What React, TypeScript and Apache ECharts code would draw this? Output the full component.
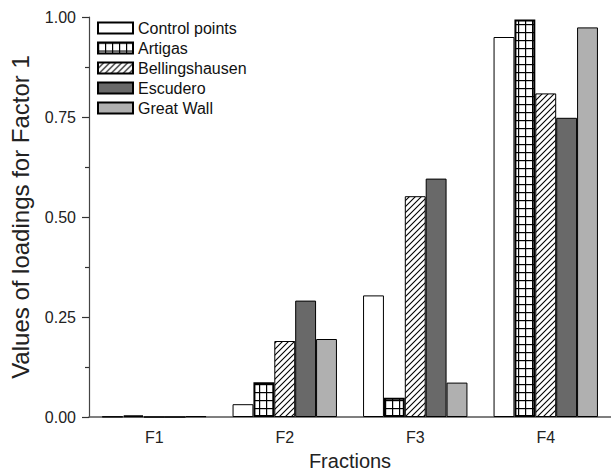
import React, { useEffect, useRef } from "react";
import * as echarts from "echarts";

const categories = ["F1", "F2", "F3", "F4"];
const seriesNames = ["Control points", "Artigas", "Bellingshausen", "Escudero", "Great Wall"];
const controlPoints = [0.001, 0.032, 0.304, 0.95];
const artigas = [0.004, 0.087, 0.048, 0.994];
const bellingshausen = [0, 0.19, 0.552, 0.809];
const escudero = [0, 0.291, 0.596, 0.748];
const greatWall = [0.002, 0.195, 0.086, 0.974];
const yTicks = [0, 0.25, 0.5, 0.75, 1.0];

const FONT = "'Liberation Sans', Arial, Helvetica, sans-serif";

function gridPattern(): HTMLCanvasElement {
  const c = document.createElement("canvas");
  c.width = 7;
  c.height = 8;
  const ctx = c.getContext("2d")!;
  ctx.fillStyle = "#ffffff";
  ctx.fillRect(0, 0, 7, 8);
  ctx.fillStyle = "#000000";
  ctx.fillRect(0, 0, 1.2, 8);
  ctx.fillRect(0, 0, 7, 1.2);
  return c;
}

function hatchPattern(): HTMLCanvasElement {
  const s = 6;
  const c = document.createElement("canvas");
  c.width = s;
  c.height = s;
  const ctx = c.getContext("2d")!;
  ctx.fillStyle = "#ffffff";
  ctx.fillRect(0, 0, s, s);
  ctx.strokeStyle = "#000000";
  ctx.lineWidth = 1.1;
  ctx.beginPath();
  ctx.moveTo(-1, s + 1);
  ctx.lineTo(s + 1, -1);
  ctx.moveTo(-1, 1);
  ctx.lineTo(1, -1);
  ctx.moveTo(s - 1, s + 1);
  ctx.lineTo(s + 1, s - 1);
  ctx.stroke();
  return c;
}

export default function App() {
  const ref = useRef<HTMLDivElement>(null);

  useEffect(() => {
    document.body.style.margin = "0";
    if (!ref.current) return;
    const chart = echarts.init(ref.current, null, { renderer: "svg" });
    const values = [controlPoints, artigas, bellingshausen, escudero, greatWall];
    const fills: any[] = [
      "#ffffff",
      { image: gridPattern(), repeat: "repeat" },
      { image: hatchPattern(), repeat: "repeat" },
      "#696969",
      "#b0b0b0",
    ];
    const borderWidths = [1, 2, 1, 1, 1];

    chart.setOption({
      animation: false,
      backgroundColor: "#ffffff",
      textStyle: { fontFamily: FONT },
      grid: { left: 88, top: 17, width: 528, height: 404, containLabel: false },
      legend: {
        orient: "vertical",
        left: 97,
        top: 20,
        padding: 0,
        itemWidth: 35,
        itemHeight: 11,
        itemGap: 4,
        icon: "rect",
        data: seriesNames,
        textStyle: { fontSize: 16, color: "#111", fontFamily: FONT, lineHeight: 16 },
      },
      xAxis: {
        type: "category",
        data: categories,
        name: "Fractions",
        nameLocation: "middle",
        nameGap: 34,
        nameTextStyle: { fontSize: 20, color: "#222", fontFamily: FONT },
        axisLine: { lineStyle: { color: "#555", width: 1.5 } },
        axisTick: { alignWithLabel: true, length: 7, lineStyle: { color: "#333", width: 1.2 } },
        axisLabel: { fontSize: 16, color: "#222", margin: 12, fontFamily: FONT },
        splitLine: { show: false },
      },
      yAxis: {
        type: "value",
        min: 0,
        max: 1,
        interval: 0.25,
        name: "Values of loadings for Factor 1",
        nameLocation: "middle",
        nameGap: 57,
        nameTextStyle: { fontSize: 24, color: "#222", fontFamily: FONT },
        axisLine: { show: true, lineStyle: { color: "#444", width: 1.2 } },
        axisTick: { show: true, length: 7, lineStyle: { color: "#333", width: 1.2 } },
        minorTick: { show: true, splitNumber: 2, length: 4, lineStyle: { color: "#333", width: 1.2 } },
        axisLabel: {
          fontSize: 16,
          color: "#222",
          margin: 13,
          fontFamily: FONT,
          formatter: (v: number) => (yTicks.includes(v) ? v.toFixed(2) : ""),
        },
        splitLine: { show: false },
      },
      series: seriesNames.map((name, i) => ({
        name,
        type: "bar",
        data: values[i],
        barGap: "0%",
        barCategoryGap: "20%",
        itemStyle: {
          color: fills[i],
          borderColor: "#000",
          borderWidth: borderWidths[i],
        },
      })),
    });

    return () => {
      chart.dispose();
    };
  }, []);

  return <div ref={ref} style={{ width: 611, height: 476 }} />;
}
